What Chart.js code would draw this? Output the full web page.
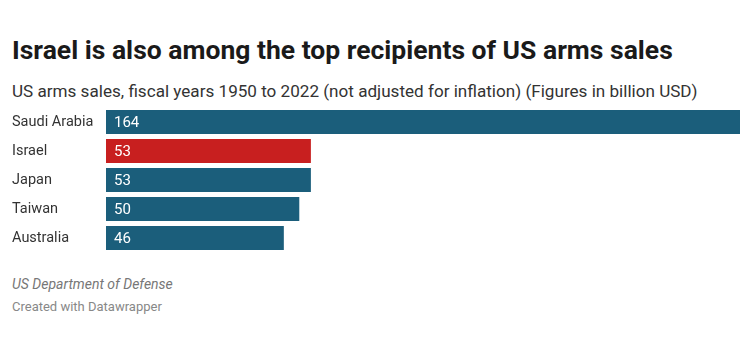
<!DOCTYPE html>
<html>
<head>
<meta charset="utf-8">
<script src="https://cdn.jsdelivr.net/npm/chart.js@4"></script>
<style>
  html, body { margin: 0; padding: 0; background: #fff; }
  body { width: 750px; height: 339px; position: relative; overflow: hidden; font-family: Roboto, sans-serif; }
  .txt { position: absolute; left: 12px; white-space: nowrap; line-height: normal; }
  #title { top: 34px; font-size: 26.5px; font-weight: 700; color: #1a1a1a; }
  #subtitle { top: 81px; font-size: 17.1px; color: #333; }
  #source { top: 276px; font-size: 14px; font-style: italic; color: #777; }
  #credit { top: 299px; font-size: 13px; color: #888; }
  #wrap { position: absolute; left: 0; top: 105px; width: 750px; height: 150px; }
</style>
</head>
<body>
<div id="title" class="txt">Israel is also among the top recipients of US arms sales</div>
<div id="subtitle" class="txt">US arms sales, fiscal years 1950 to 2022 (not adjusted for inflation) (Figures in billion USD)</div>
<div id="wrap"><canvas id="c"></canvas></div>
<div id="source" class="txt">US Department of Defense</div>
<div id="credit" class="txt">Created with Datawrapper</div>
<script>
const countries = ['Saudi Arabia', 'Israel', 'Japan', 'Taiwan', 'Australia']
const sales = [164, 53, 53, 50, 46]

const TEAL = '#1b5e7b'
const RED = '#c81f1f'
const LABEL = '#333'

// white value labels at the start of each bar
const valueLabels = {
  id: 'valueLabels',
  afterDatasetsDraw(chart) {
    const ctx = chart.ctx
    const meta = chart.getDatasetMeta(0)
    ctx.save()
    ctx.font = '15px Roboto, sans-serif'
    ctx.fillStyle = '#fff'
    ctx.textAlign = 'left'
    ctx.textBaseline = 'middle'
    meta.data.forEach((bar, i) => {
      ctx.fillText(String(sales[i]), bar.base + 8, bar.y + 1)
    })
    ctx.restore()
  },
}

new Chart(document.getElementById('c'), {
  type: 'bar',
  data: {
    labels: countries,
    datasets: [{
      data: sales,
      backgroundColor: countries.map((c) => (c === 'Israel' ? RED : TEAL)),
      borderWidth: 0,
      categoryPercentage: 1,
      barPercentage: 0.83,
    }],
  },
  options: {
    indexAxis: 'y',
    responsive: true,
    maintainAspectRatio: false,
    animation: false,
    layout: { padding: { left: 12, right: 10, top: 2.5, bottom: 2.5 } },
    plugins: {
      legend: { display: false },
      tooltip: { enabled: false },
    },
    scales: {
      x: { display: false, min: 0, max: 164 },
      y: {
        grid: { display: false },
        border: { display: false },
        ticks: {
          color: LABEL,
          crossAlign: 'far',
          padding: 0,
          font: { family: 'Roboto, sans-serif', size: 14.5 },
        },
        afterFit: (scale) => {
          scale.width = 94
          scale.paddingTop = 0
          scale.paddingBottom = 0
        },
      },
    },
  },
  plugins: [valueLabels],
})
</script>
</body>
</html>
